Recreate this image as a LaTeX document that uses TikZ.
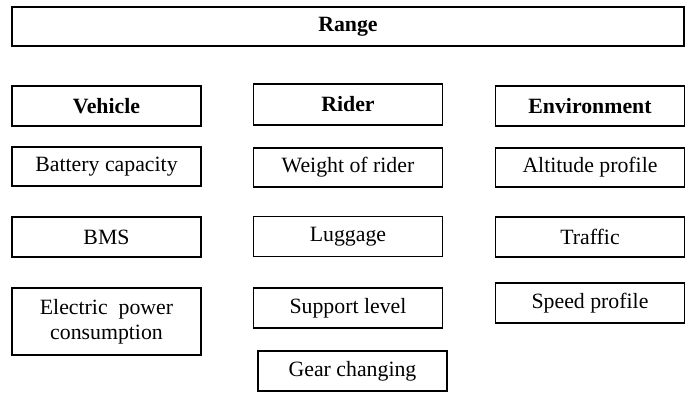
\documentclass[tikz,border=0pt]{standalone}
\usepackage{fontspec}
\setmainfont{Liberation Serif}
\begin{document}
\begin{tikzpicture}[x=0.5pt,y=-0.5pt]
  \tikzstyle{factor}=[draw,line width=0.6pt,inner sep=0pt,outer sep=0pt,
  minimum width=94.5pt,minimum height=20pt,align=center,
  font=\fontsize{10.9}{12.5}\selectfont]
  \tikzstyle{group}=[factor,font=\fontsize{10.9}{12.5}\selectfont\bfseries]
  \useasboundingbox (0,0) rectangle (691,392);
  \node[group,minimum width=336pt,minimum height=19.5pt](range) at (348,26.5){Range};
  \node[group](vehicle) at (106.5,106){Vehicle};
  \node[group,minimum height=20.5pt](rider) at (348,104.5){Rider};
  \node[group](environment) at (590,106){Environment};
  \node[factor,minimum height=19.5pt](battery) at (106.5,166.5){Battery capacity};
  \node[factor,minimum height=19.5pt](weight) at (348,167.5){Weight of rider};
  \node[factor,minimum height=19.5pt](altitude) at (590,167.5){Altitude profile};
  \node[factor](bms) at (106.5,237){BMS};
  \node[factor](luggage) at (348,236.5){Luggage};
  \node[factor](traffic) at (590,237){Traffic};
  \node[factor,minimum height=33.5pt](power) at (106.5,321.5){Electric\ \ power\\consumption};
  \node[factor](support) at (348,308){Support level};
  \node[factor](speed) at (590,303){Speed profile};
  \node[factor](gear) at (352.5,371){Gear changing};
\end{tikzpicture}
\end{document}
